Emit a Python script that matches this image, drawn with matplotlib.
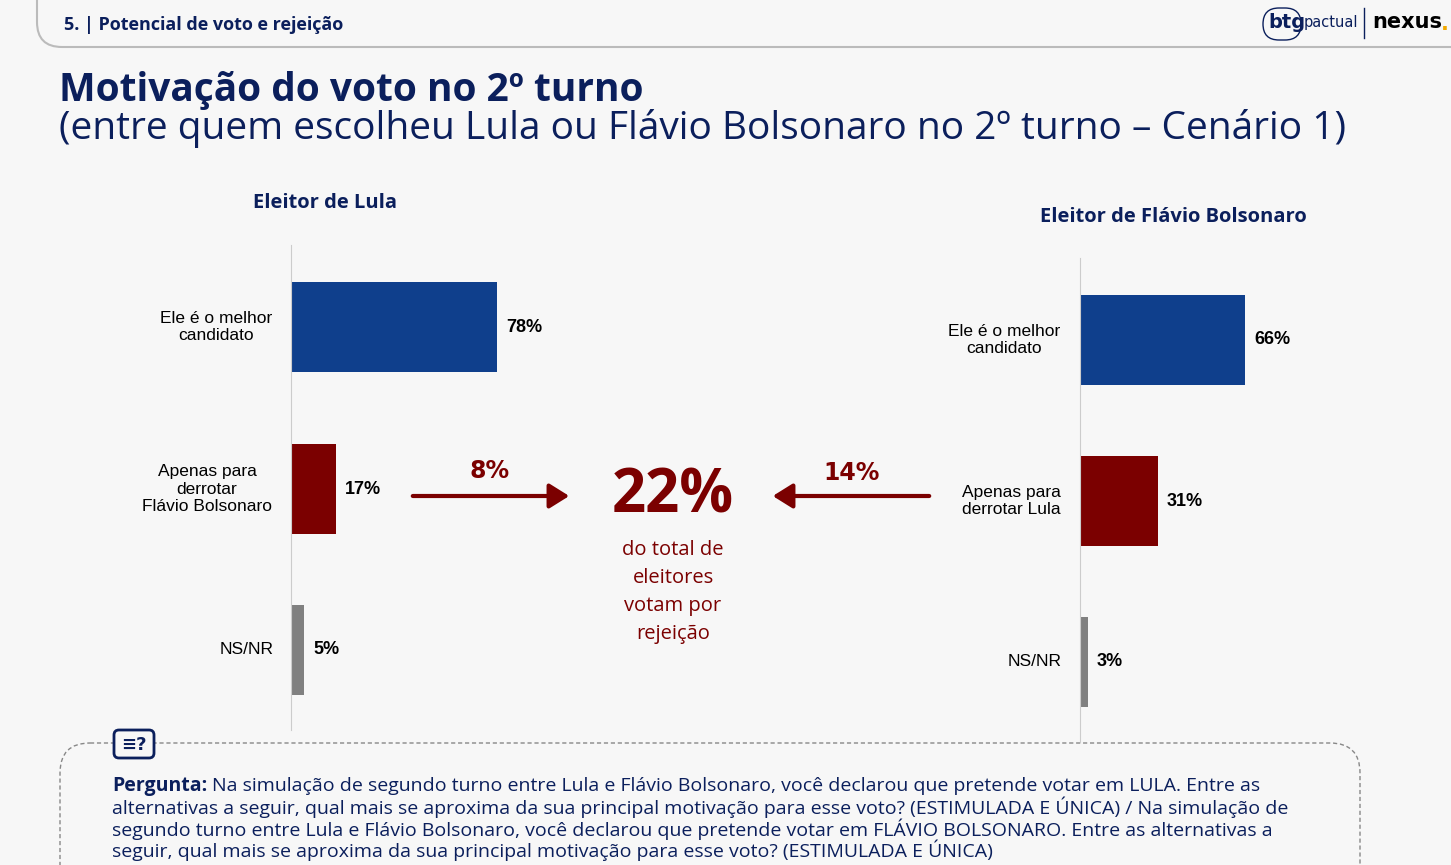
import matplotlib.pyplot as plt
from matplotlib.patches import FancyBboxPatch, FancyArrowPatch

W, H = 1451, 865
categories_lula = ["Ele é o melhor\ncandidato", "Apenas para\nderrotar\nFlávio Bolsonaro", "NS/NR"]
values_lula = [78, 17, 5]
categories_flavio = ["Ele é o melhor\ncandidato", "Apenas para\nderrotar Lula", "NS/NR"]
values_flavio = [66, 31, 3]
rejection_lula = "8%"
rejection_flavio = "14%"
rejection_total = "22%"
colors = ["#0F3F8C", "#7B0000", "#808080"]
navy = "#0B1F5C"
red = "#7B0000"

fig = plt.figure(figsize=(W / 100, H / 100), dpi=100)
fig.patch.set_facecolor("#F7F7F7")
over = fig.add_axes([0, 0, 1, 1])
over.set_xlim(0, W)
over.set_ylim(H, 0)
over.axis("off")

# header tab
over.add_patch(FancyBboxPatch((37, -30), 1500, 77, boxstyle="round,pad=0,rounding_size=25",
                              fc="#F7F7F7", ec="#BBBBBB", lw=1.5))
over.text(64, 25, "5. | Potencial de voto e rejeição", fontsize=13, fontweight="bold",
          color=navy, va="center", family="Open Sans")
over.add_patch(FancyBboxPatch((1263, 8), 38, 32, boxstyle="round,pad=0,rounding_size=16",
                              fc="none", ec=navy, lw=1))
over.text(1268, 23, "btg", fontsize=14, fontweight="bold", color=navy, va="center")
over.text(1304, 23, "pactual", fontsize=10.5, color=navy, va="center")
over.plot([1364, 1364], [8, 38], color=navy, lw=1)
over.text(1372, 22, "nexus", fontsize=15, fontweight="bold", color="black", va="center")
over.text(1441, 24, ".", fontsize=15, fontweight="bold", color="#F2A900", va="center")

over.text(59, 90, "Motivação do voto no 2º turno", fontsize=28, fontweight="bold",
          color=navy, va="center", family="Open Sans")
over.text(59, 128, "(entre quem escolheu Lula ou Flávio Bolsonaro no 2º turno – Cenário 1)",
          fontsize=28, color=navy, va="center", family="Open Sans")

def panel(x0, top, bottom, centers, cats, vals, pxpct, title, tx, ty, lab_x):
    ax = fig.add_axes([x0 / W, 1 - bottom / H, 100 * pxpct / W, (bottom - top) / H])
    ax.set_xlim(0, 100)
    ax.set_ylim(bottom, top)
    ax.barh(centers, vals, height=90, color=colors)
    for c, v in zip(centers, vals):
        ax.text(v + 9 / pxpct, c, f"{v}%", va="center", fontsize=13, fontweight="bold",
                family="Liberation Sans")
    for c, lab, lx in zip(centers, cats, lab_x):
        over.text(lx, c, lab, va="center", ha="center", fontsize=12.5,
                  family="Liberation Sans", multialignment="center")
    for s in ["top", "right", "bottom"]:
        ax.spines[s].set_visible(False)
    ax.spines["left"].set_color("#CCCCCC")
    ax.set_xticks([])
    ax.set_yticks([])
    ax.patch.set_alpha(0)
    over.text(tx, ty, title, fontsize=14.5, fontweight="bold", color=navy, ha="center",
              va="center", family="Open Sans")

panel(291, 245, 730, [327, 489, 650], categories_lula, values_lula, 2.64,
      "Eleitor de Lula", 325, 203, [216, 207, 247])
panel(1080, 258, 742, [340, 501, 662], categories_flavio, values_flavio, 2.5,
      "Eleitor de Flávio Bolsonaro", 1173, 217, [1004, 1011, 1035])

over.add_patch(FancyArrowPatch((410, 496), (572, 496), arrowstyle="-|>,head_length=8,head_width=5",
                               color=red, lw=3, mutation_scale=1.5))
over.add_patch(FancyArrowPatch((932, 496), (770, 496), arrowstyle="-|>,head_length=8,head_width=5",
                               color=red, lw=3, mutation_scale=1.5))
over.text(490, 471, rejection_lula, fontsize=17, fontweight="bold", color=red, ha="center", va="center")
over.text(852, 473, rejection_flavio, fontsize=17, fontweight="bold", color=red, ha="center", va="center")
over.text(673, 497, rejection_total, fontsize=43, fontweight="bold", color=red, ha="center",
          va="center", family="Open Sans")
for i, line in enumerate(["do total de", "eleitores", "votam por", "rejeição"]):
    over.text(673, 550 + 28 * i, line, fontsize=14.5, color=red, ha="center", va="center",
              family="Open Sans")

# question box
over.add_patch(FancyBboxPatch((60, 743), 1300, 200, boxstyle="round,pad=0,rounding_size=30",
                              fc="none", ec="#888888", lw=1, ls=(0, (3, 2))))
over.add_patch(FancyBboxPatch((114, 730), 40, 28, boxstyle="round,pad=0,rounding_size=5",
                              fc="#F7F7F7", ec=navy, lw=2))
over.text(134, 745, "≡?", fontsize=13, fontweight="bold", color=navy, ha="center", va="center")
q_first = "Na simulação de segundo turno entre Lula e Flávio Bolsonaro, você declarou que pretende votar em LULA. Entre as"
q_rest = ("alternativas a seguir, qual mais se aproxima da sua principal motivação para esse voto? (ESTIMULADA E ÚNICA) / Na simulação de\n"
          "segundo turno entre Lula e Flávio Bolsonaro, você declarou que pretende votar em FLÁVIO BOLSONARO. Entre as alternativas a\n"
          "seguir, qual mais se aproxima da sua principal motivação para esse voto? (ESTIMULADA E ÚNICA)")
over.text(112, 786, "Pergunta:", fontsize=14, fontweight="bold", color=navy, va="center",
          family="Open Sans")
over.text(212, 786, q_first, fontsize=14, color=navy, va="center", family="Open Sans")
over.text(112, 797, q_rest, fontsize=14, color=navy, va="top", family="Open Sans",
          linespacing=0.98)

fig.savefig("out.png", dpi=100, facecolor=fig.get_facecolor())
